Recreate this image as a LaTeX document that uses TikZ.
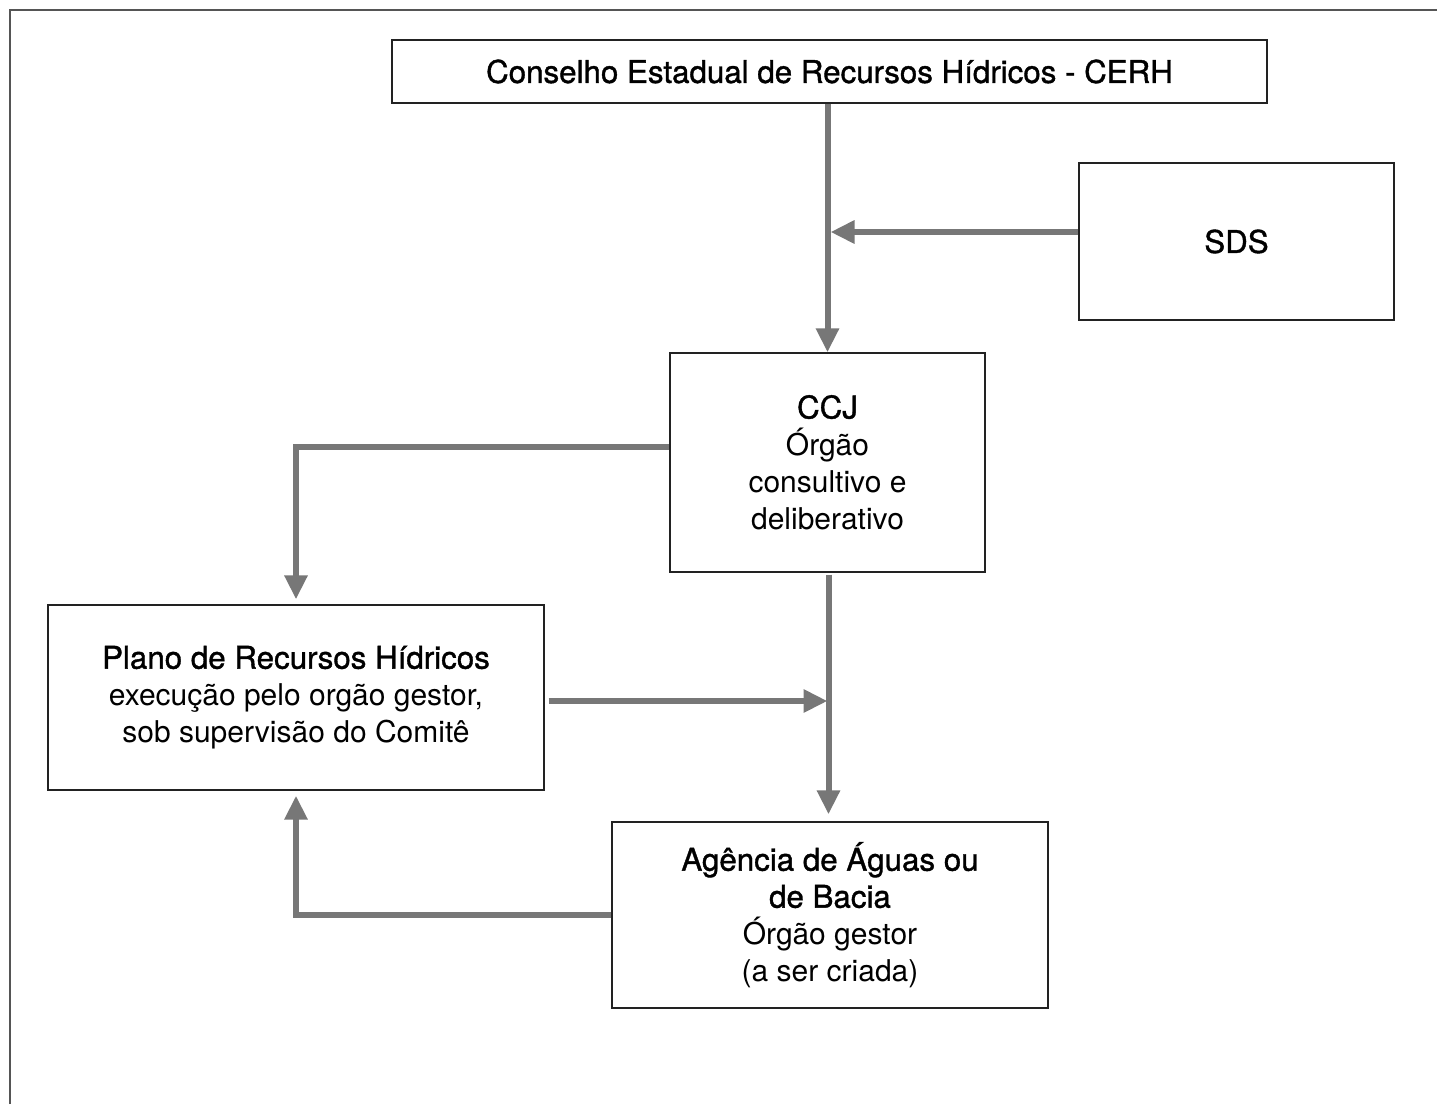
\documentclass[tikz,border=0pt]{standalone}
\usepackage{fontspec}
\setmainfont{TeX Gyre Heros}
\newfontfamily\medfontface{TeX Gyre Heros}[FakeBold=1.2]
\newcommand\medfont{\medfontface\fontsize{31.3}{37}\selectfont}
\usetikzlibrary{arrows.meta}
\definecolor{arrgray}{HTML}{777777}
\definecolor{boxline}{HTML}{222222}
\definecolor{framegray}{HTML}{555555}
\begin{document}
\begin{tikzpicture}[x=1pt,y=-1pt,
  box/.style={draw=boxline,line width=1.3pt,rectangle,inner sep=0pt,align=center,
    font=\fontsize{30}{37}\selectfont},
  arr/.style={draw=arrgray,line width=6pt,-{Triangle[length=24pt,width=22pt]}},
  framel/.style={draw=framegray,line width=2pt}]
\useasboundingbox (0,0) rectangle (1437,1104);
% frame
\coordinate (fbl) at (10,1104);
\coordinate (ftl) at (10,10);
\coordinate (ftr) at (1437,10);
\draw[framel] (fbl) -- (ftl) -- (ftr);
% boxes
\node[box,minimum width=875pt,minimum height=63pt] (CERH) at (829.5,71.5)
  {\medfont Conselho Estadual de Recursos Hídricos - CERH};
\node[box,minimum width=315pt,minimum height=157pt] (SDS) at (1236.5,241.5)
  {\medfont SDS};
\node[box,minimum width=315pt,minimum height=219pt] (CCJ) at (827.5,462.5)
  {{\medfont CCJ}\\Órgão\\consultivo e\\deliberativo};
\node[box,minimum width=496pt,minimum height=185pt] (Plano) at (296,697.5)
  {{\medfont Plano de Recursos Hídricos}\\execução pelo orgão gestor,\\sob supervisão do Comitê};
\node[box,minimum width=436pt,minimum height=186pt] (Ag) at (830,915)
  {{\medfont Agência de Águas ou}\\{\medfont de Bacia}\\Órgão gestor\\(a ser criada)};
% connectors
\draw[arr] (CCJ.north |- CERH.south) -- (CCJ.north);
\draw[arr] ([yshift=9.5pt]SDS.west) -- ([xshift=3pt,yshift=9.5pt]SDS.west -| CCJ.north);
\draw[arr,shorten >=5pt] ([yshift=15.5pt]CCJ.west) -- ([yshift=15.5pt]CCJ.west -| Plano.north) -- (Plano.north);
\draw[arr,shorten >=7pt,shorten <=2pt] ([xshift=1pt]CCJ.south) -- ([xshift=1pt]CCJ.south |- Ag.north);
\draw[arr,shorten <=4pt] ([yshift=-3.5pt]Plano.east) -- ([yshift=-3.5pt]Plano.east -| CCJ.south);
\draw[arr,shorten >=5pt] (Ag.west) -- (Ag.west -| Plano.south) -- (Plano.south);
\end{tikzpicture}
\end{document}
